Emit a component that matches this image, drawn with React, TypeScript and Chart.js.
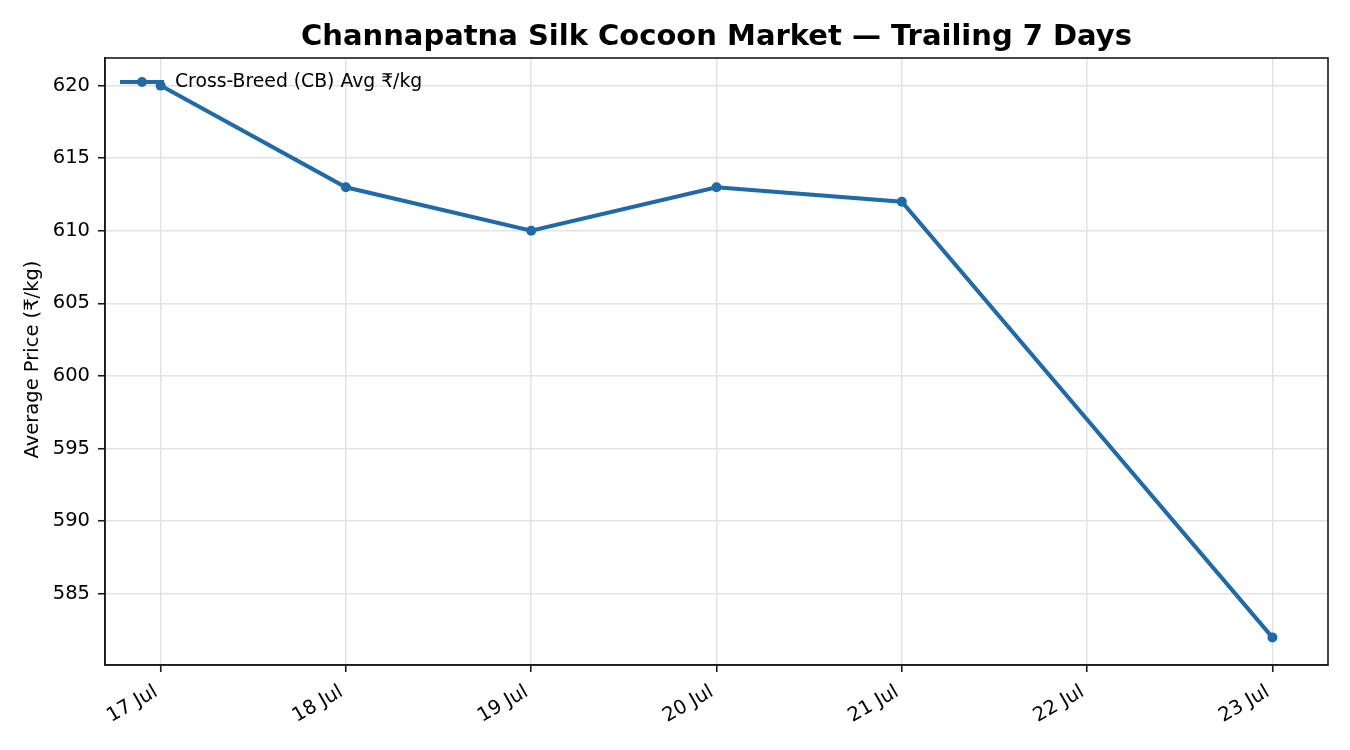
import React, { useEffect, useRef } from "react";
import { Chart, registerables } from "chart.js";

Chart.register(...registerables);

const TITLE = "Channapatna Silk Cocoon Market — Trailing 7 Days";
const SERIES_LABEL = "Cross-Breed (CB) Avg ₹/kg";
const Y_TITLE = "Average Price (₹/kg)";
const dates = ["17 Jul", "18 Jul", "19 Jul", "20 Jul", "21 Jul", "22 Jul", "23 Jul"];
const prices: (number | null)[] = [620, 613, 610, 613, 612, null, 582];
const yTicks = [585, 590, 595, 600, 605, 610, 615, 620];

const LINE_COLOR = "#1f6aa8";
const FONT = "'DejaVu Sans', 'Liberation Sans', sans-serif";
const AXIS_COLOR = "#1a1a1a";
const GRID_COLOR = "#e3e3e3";

export default function App() {
  const ref = useRef<HTMLCanvasElement | null>(null);

  useEffect(() => {
    if (!ref.current) return;
    const decor = {
      id: "decor",
      afterDraw(chart: any) {
        const { ctx, chartArea: a } = chart;
        ctx.save();
        // frame
        ctx.strokeStyle = AXIS_COLOR;
        ctx.lineWidth = 1.6;
        ctx.strokeRect(a.left, a.top, a.right - a.left, a.bottom - a.top);
        // title
        ctx.fillStyle = "#000";
        ctx.font = `bold 29px ${FONT}`;
        ctx.textAlign = "center";
        ctx.textBaseline = "alphabetic";
        ctx.fillText(TITLE, (a.left + a.right) / 2, 45);
        // y title
        ctx.save();
        ctx.translate(38, (a.top + a.bottom) / 2 - 2);
        ctx.rotate(-Math.PI / 2);
        ctx.font = `19.5px ${FONT}`;
        ctx.textAlign = "center";
        ctx.textBaseline = "alphabetic";
        ctx.fillText(Y_TITLE, 0, 0);
        ctx.restore();
        // x tick labels (rotated 30°, right-aligned at tick)
        const xs = chart.scales.x;
        ctx.font = `19.5px ${FONT}`;
        ctx.textAlign = "right";
        ctx.textBaseline = "alphabetic";
        dates.forEach((d, i) => {
          const px = xs.getPixelForValue(i);
          ctx.save();
          ctx.translate(px - 2, a.bottom + 30);
          ctx.rotate(-Math.PI / 6);
          ctx.fillText(d, 0, 0);
          ctx.restore();
        });
        // legend
        const ly = 82;
        ctx.strokeStyle = LINE_COLOR;
        ctx.lineWidth = 4;
        ctx.beginPath();
        ctx.moveTo(120, ly);
        ctx.lineTo(164, ly);
        ctx.stroke();
        ctx.fillStyle = LINE_COLOR;
        ctx.beginPath();
        ctx.arc(142, ly, 5, 0, Math.PI * 2);
        ctx.fill();
        ctx.fillStyle = "#000";
        ctx.font = `18.8px ${FONT}`;
        ctx.textAlign = "left";
        ctx.textBaseline = "middle";
        ctx.fillText(SERIES_LABEL, 175, ly);
        ctx.restore();
      },
    };

    const chart = new Chart(ref.current, {
      type: "line",
      data: {
        datasets: [
          {
            label: SERIES_LABEL,
            data: prices.map((p, i) => ({ x: i, y: p })) as any,
            borderColor: LINE_COLOR,
            backgroundColor: LINE_COLOR,
            borderWidth: 4,
            pointRadius: 5,
            pointHoverRadius: 5,
            pointBorderWidth: 0,
            spanGaps: true,
            tension: 0,
          },
        ],
      },
      options: {
        animation: false,
        responsive: true,
        maintainAspectRatio: false,
        devicePixelRatio: 1,
        layout: { padding: { top: 58, right: 22, left: 0, bottom: 0 } },
        plugins: {
          legend: { display: false },
          title: { display: false },
          tooltip: { enabled: false },
        },
        scales: {
          x: {
            type: "linear",
            min: -0.3,
            max: 6.3,
            afterBuildTicks: (s: any) => {
              s.ticks = dates.map((_, i) => ({ value: i }));
            },
            afterFit: (s: any) => {
              s.height = 85;
            },
            grid: {
              color: GRID_COLOR,
              lineWidth: 1.5,
              tickColor: AXIS_COLOR,
              tickLength: 7,
              tickWidth: 1.6,
            },
            border: { display: true, color: AXIS_COLOR, width: 1.6 },
            ticks: { display: false },
          },
          y: {
            type: "linear",
            min: 580.1,
            max: 621.9,
            afterBuildTicks: (s: any) => {
              s.ticks = yTicks.map((v) => ({ value: v }));
            },
            afterFit: (s: any) => {
              s.width = 105;
            },
            grid: {
              color: GRID_COLOR,
              lineWidth: 1.5,
              tickColor: AXIS_COLOR,
              tickLength: 7,
              tickWidth: 1.6,
            },
            border: { display: true, color: AXIS_COLOR, width: 1.6 },
            ticks: {
              padding: 8,
              color: "#000",
              font: { family: FONT, size: 19.5 },
              callback: (v: any) => String(v),
            },
          },
        },
      },
      plugins: [decor],
    });
    return () => chart.destroy();
  }, []);

  return (
    <div style={{ position: "absolute", left: 0, top: 0, width: 1350, height: 750, background: "#fff" }}>
      <canvas ref={ref} />
    </div>
  );
}
